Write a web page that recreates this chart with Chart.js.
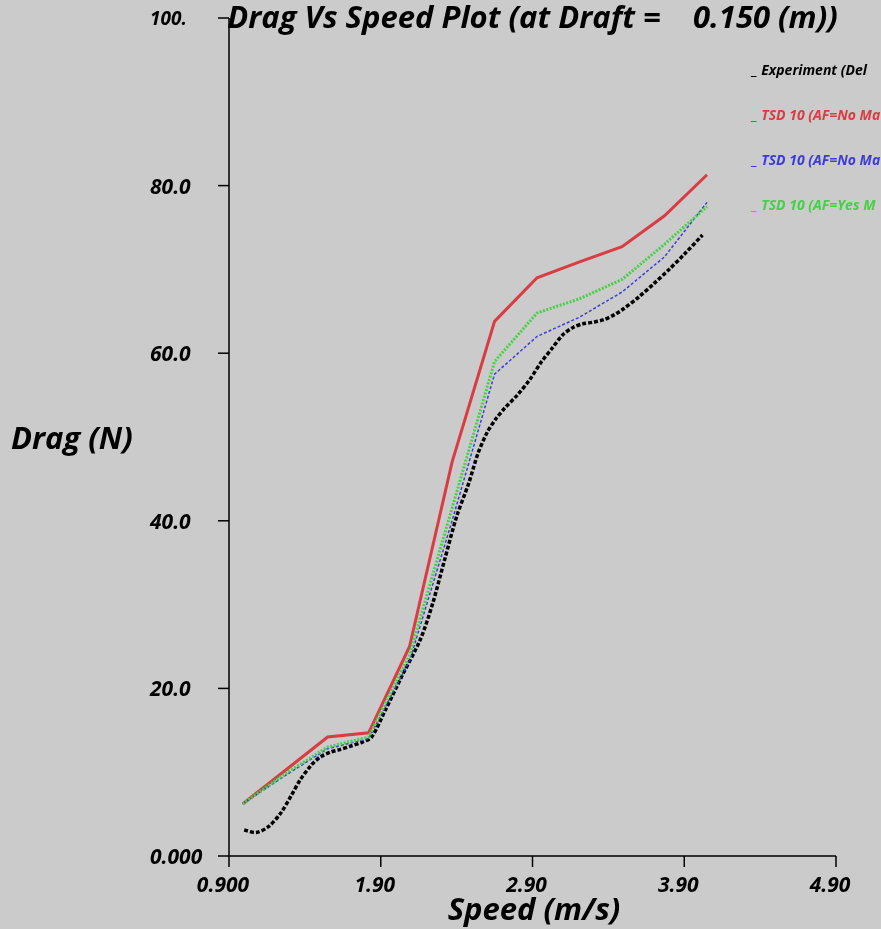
<!DOCTYPE html>
<html>
<head>
<meta charset="utf-8">
<script src="https://cdn.jsdelivr.net/npm/chart.js@4/dist/chart.umd.min.js"></script>
<style>
  html, body { margin: 0; padding: 0; background: #cbcbcb; }
  #wrap { width: 881px; height: 929px; }
</style>
</head>
<body>
<div id="wrap"><canvas id="dragChart" width="881" height="929"></canvas></div>
<script>
// data
const speedTsd = [0.99, 1.27, 1.55, 1.82, 2.09, 2.37, 2.65, 2.93, 3.21, 3.49, 3.77, 4.05];
const dragAfNoRed = [6.2, 10.2, 14.2, 14.7, 25.0, 47.0, 63.8, 69.0, 70.9, 72.7, 76.4, 81.3];
const dragAfNoBlue = [6.2, 9.6, 12.8, 14.0, 23.3, 40.0, 57.5, 62.0, 64.3, 67.3, 71.5, 78.0];
const dragAfYes = [6.2, 9.8, 13.0, 14.2, 24.0, 41.5, 59.0, 64.8, 66.5, 68.8, 73.0, 77.5];

const speedExp = [1.00, 1.08, 1.16, 1.24, 1.31, 1.37, 1.44, 1.50, 1.57, 1.63, 1.70, 1.78, 1.84,
  1.93, 2.04, 2.16, 2.24, 2.32, 2.40, 2.48, 2.54, 2.60, 2.66, 2.72, 2.80, 2.88, 2.96, 3.03,
  3.10, 3.17, 3.23, 3.30, 3.37, 3.44, 3.50, 3.60, 3.70, 3.80, 3.90, 4.02];
const dragExp = [3.1, 2.8, 3.5, 5.1, 7.2, 9.1, 10.8, 11.8, 12.4, 12.7, 13.1, 13.6, 14.2,
  17.4, 21.5, 25.8, 30.0, 35.3, 40.5, 44.5, 48.0, 50.5, 52.2, 53.5, 55.0, 56.8, 59.0, 60.6,
  62.2, 63.1, 63.5, 63.7, 64.0, 64.6, 65.3, 66.7, 68.3, 70.0, 71.8, 74.1];

const seriesLabels = ['Experiment (Del', 'TSD 10 (AF=No Ma', 'TSD 10 (AF=No Ma', 'TSD 10 (AF=Yes M'];

const xTicks = [0.9, 1.9, 2.9, 3.9, 4.9];
const xTickLabels = ['0.900', '1.90', '2.90', '3.90', '4.90'];
const yTicks = [0, 20, 40, 60, 80, 100];
const yTickLabels = ['0.000', '20.0', '40.0', '60.0', '80.0', '100.'];

const titleText = 'Drag Vs Speed Plot (at Draft =    0.150 (m))';
const xTitle = 'Speed (m/s)';
const yTitle = 'Drag (N)';

const FONT = '"Open Sans", "DejaVu Sans", sans-serif';

function pts(xs, ys) {
  return xs.map((x, i) => ({ x: x, y: ys[i] }));
}

const framePlugin = {
  id: 'frame',
  beforeDraw(chart) {
    const ctx = chart.ctx;
    ctx.save();
    ctx.fillStyle = '#cbcbcb';
    ctx.fillRect(0, 0, chart.width, chart.height);
    ctx.restore();
  },
  afterDraw(chart) {
    const ctx = chart.ctx;
    const xs = chart.scales.x, ys = chart.scales.y;
    const area = chart.chartArea;
    ctx.save();

    // axes
    ctx.strokeStyle = '#000';
    ctx.lineWidth = 1.5;
    ctx.beginPath();
    ctx.moveTo(area.left, ys.getPixelForValue(100));
    ctx.lineTo(area.left, area.bottom);
    ctx.lineTo(xs.getPixelForValue(4.9), area.bottom);
    ctx.stroke();

    ctx.fillStyle = '#000';

    // y ticks (labels are left aligned)
    ctx.textAlign = 'left';
    ctx.textBaseline = 'middle';
    yTicks.forEach((v, i) => {
      const py = ys.getPixelForValue(v);
      ctx.beginPath();
      ctx.moveTo(area.left - 11, py);
      ctx.lineTo(area.left, py);
      ctx.stroke();
      if (v === 100) {
        ctx.font = 'italic 700 19px "Liberation Sans Narrow", ' + FONT;
      } else {
        ctx.font = 'italic 700 21px ' + FONT;
      }
      ctx.fillText(yTickLabels[i], 150, py + 2);
    });

    // x ticks
    ctx.font = 'italic 700 21px ' + FONT;
    ctx.textAlign = 'center';
    ctx.textBaseline = 'middle';
    xTicks.forEach((v, i) => {
      const px = xs.getPixelForValue(v);
      ctx.beginPath();
      ctx.moveTo(px, area.bottom);
      ctx.lineTo(px, area.bottom + 11);
      ctx.stroke();
      ctx.fillText(xTickLabels[i], px - 6, area.bottom + 30);
    });

    // titles
    ctx.font = 'italic 700 31px ' + FONT;
    ctx.textAlign = 'center';
    ctx.textBaseline = 'middle';
    ctx.fillText(titleText, (area.left + area.right) / 2, 19);
    ctx.fillText(xTitle, 534, 911);
    ctx.textAlign = 'left';
    ctx.fillText(yTitle, 11, 440);

    // legend
    ctx.font = 'italic 700 14px ' + FONT;
    ctx.textBaseline = 'middle';
    chart.data.datasets.forEach((ds, i) => {
      ctx.fillStyle = ds.borderColor;
      ctx.fillText('_ ' + ds.label, 752, 71 + i * 45);
    });

    ctx.restore();
  }
};

new Chart(document.getElementById('dragChart'), {
  type: 'line',
  data: {
    datasets: [
      {
        label: seriesLabels[0],
        data: pts(speedExp, dragExp),
        borderColor: '#000000',
        borderWidth: 3.5,
        borderDash: [4, 2],
        tension: 0.3,
        order: 4
      },
      {
        label: seriesLabels[1],
        data: pts(speedTsd, dragAfNoRed),
        borderColor: '#d93c42',
        borderWidth: 3,
        order: 3
      },
      {
        label: seriesLabels[2],
        data: pts(speedTsd, dragAfNoBlue),
        borderColor: '#3c3cd8',
        borderWidth: 1.5,
        borderDash: [3, 2],
        order: 2
      },
      {
        label: seriesLabels[3],
        data: pts(speedTsd, dragAfYes),
        borderColor: '#46d046',
        borderWidth: 3,
        borderDash: [2, 1.5],
        order: 1
      }
    ]
  },
  options: {
    responsive: false,
    animation: false,
    devicePixelRatio: 1,
    layout: { padding: { left: 229, right: 45, top: 18, bottom: 73 } },
    elements: { point: { radius: 0 }, line: { fill: false } },
    plugins: { legend: { display: false }, tooltip: { enabled: false }, title: { display: false } },
    scales: {
      x: { type: 'linear', min: 0.9, max: 4.9, display: false },
      y: { type: 'linear', min: 0, max: 100, display: false }
    }
  },
  plugins: [framePlugin]
});
</script>
</body>
</html>
